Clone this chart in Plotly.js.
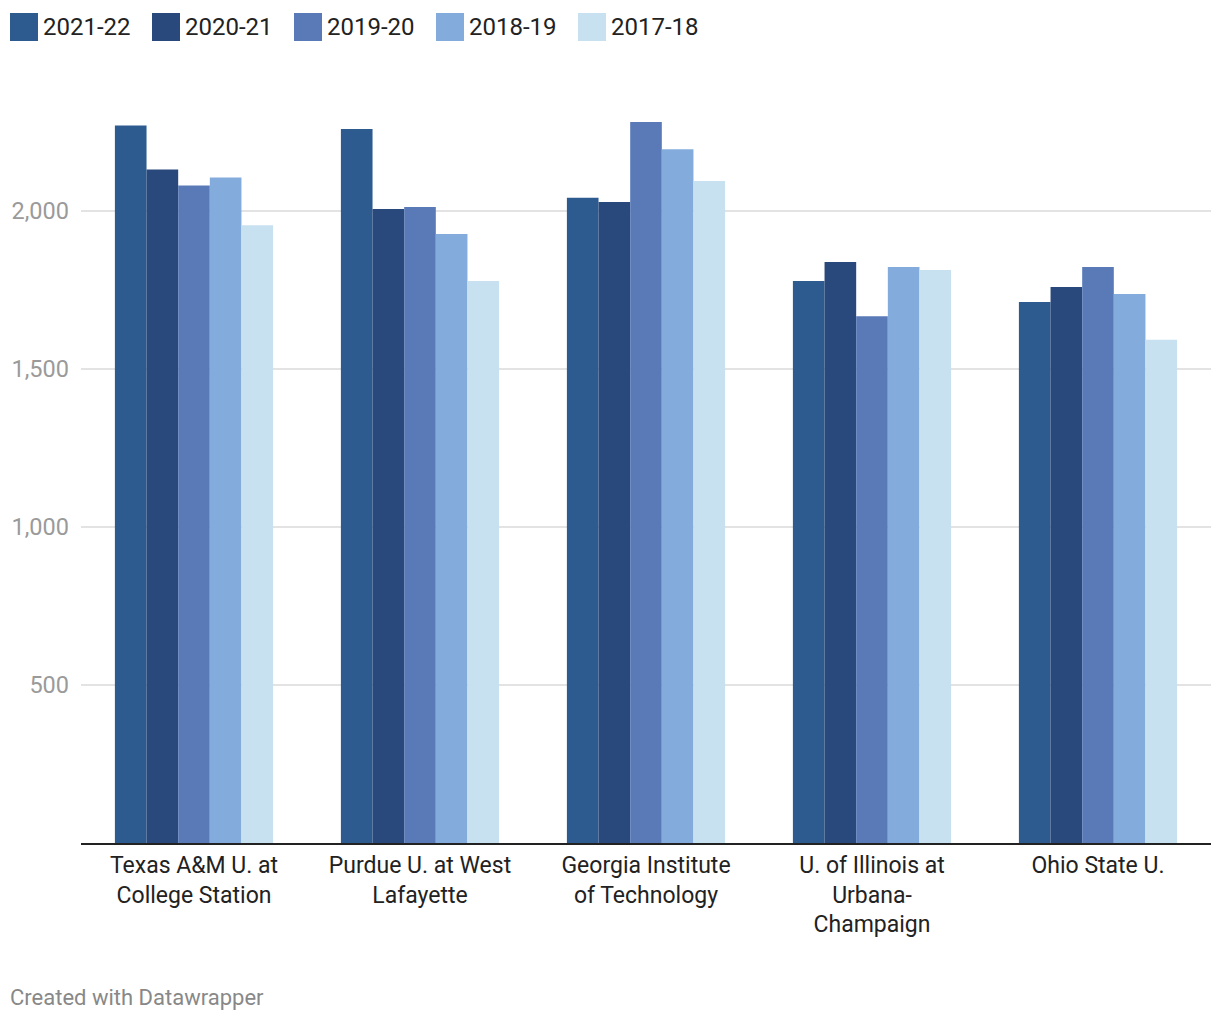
<!DOCTYPE html>
<html>
<head>
<meta charset="utf-8">
<script src="https://cdn.plot.ly/plotly-3.0.1.min.js"></script>
<style>
html,body{margin:0;padding:0;background:#fff;}
#chart{width:1220px;height:1022px;}
</style>
</head>
<body>
<div id="chart"></div>
<script>
const categories = [
  "Texas A&M U. at<br>College Station",
  "Purdue U. at West<br>Lafayette",
  "Georgia Institute<br>of Technology",
  "U. of Illinois at<br>Urbana-<br>Champaign",
  "Ohio State U."
];
const seriesNames = ["2021-22", "2020-21", "2019-20", "2018-19", "2017-18"];
const v2021_22 = [2269, 2258, 2040, 1777, 1711];
const v2020_21 = [2130, 2005, 2027, 1837, 1758];
const v2019_20 = [2079, 2011, 2280, 1666, 1821];
const v2018_19 = [2104, 1926, 2194, 1821, 1736];
const v2017_18 = [1953, 1777, 2093, 1812, 1591];
const seriesValues = [v2021_22, v2020_21, v2019_20, v2018_19, v2017_18];
const colors = ["#2e5b8f", "#29487c", "#5a7ab7", "#83acdd", "#c8e1f1"];
const yTicks = [500, 1000, 1500, 2000];

const FONT = "Roboto, 'Noto Sans', sans-serif";

const traces = seriesNames.map((name, i) => ({
  type: "bar",
  name: name,
  x: categories,
  y: seriesValues[i],
  marker: {color: colors[i], line: {width: 0}},
  hoverinfo: "x+y+name",
  showlegend: false
}));

// plot area: left 81px, width 1130px, top 84px, height 759px
const PL = 81, PW = 1130, PT = 84, PH = 759;
const px2x = px => (px - PL) / PW;
const py2y = py => (PT + PH - py) / PH;

// custom legend (squares + labels) built from series names and colours
const shapes = [];
const annotations = [];
const legendX0 = 10, legendPitch = 142, sq = 28, legendTop = 13;
seriesNames.forEach((name, i) => {
  const x0 = legendX0 + i * legendPitch;
  shapes.push({
    type: "rect", xref: "paper", yref: "paper",
    x0: px2x(x0), x1: px2x(x0 + sq),
    y0: py2y(legendTop + sq), y1: py2y(legendTop),
    fillcolor: colors[i], line: {width: 0}
  });
  annotations.push({
    xref: "paper", yref: "paper",
    x: px2x(x0 + sq + 3), y: py2y(legendTop + sq / 2),
    xanchor: "left", yanchor: "middle", showarrow: false,
    text: name, font: {family: FONT, size: 24, color: "#222"}
  });
});
annotations.push({
  xref: "paper", yref: "paper",
  x: px2x(8), y: py2y(997),
  xanchor: "left", yanchor: "middle", showarrow: false,
  text: "Created with Datawrapper", font: {family: FONT, size: 22, color: "#888"}
});

const layout = {
  width: 1220, height: 1022,
  margin: {l: PL, r: 1220 - PL - PW, t: PT, b: 1022 - PT - PH},
  paper_bgcolor: "#fff", plot_bgcolor: "#fff",
  barmode: "group", bargap: 0.3, bargroupgap: 0,
  font: {family: FONT, size: 23, color: "#222"},
  xaxis: {
    showline: true, linecolor: "#222", linewidth: 2,
    showgrid: false, ticks: "", zeroline: false,
    tickfont: {family: FONT, size: 23, color: "#222"},
    fixedrange: true
  },
  yaxis: {
    range: [0, 2400], tickvals: yTicks, tickformat: ",",
    showgrid: true, gridcolor: "#e3e3e3", gridwidth: 2,
    zeroline: false, showline: false, ticks: "",
    tickfont: {family: FONT, size: 23.5, color: "#9a9a9a"},
    ticklabelstandoff: 11,
    fixedrange: true
  },
  showlegend: false,
  shapes: shapes,
  annotations: annotations
};

Plotly.newPlot("chart", traces, layout, {displayModeBar: false});
</script>
</body>
</html>
